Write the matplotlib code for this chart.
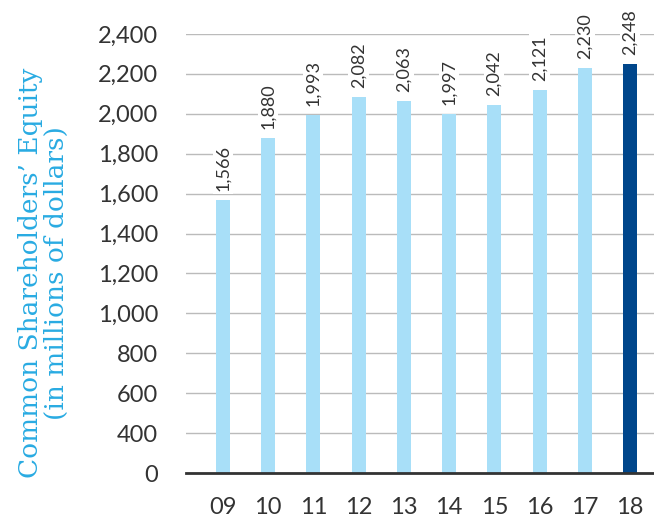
import matplotlib
matplotlib.use('Agg')
import numpy as np
from matplotlib import pyplot as plt

# Common shareholders' equity by year, millions of dollars
years = ['09', '10', '11', '12', '13', '14', '15', '16', '17', '18']
equity = [1566, 1880, 1993, 2082, 2063, 1997, 2042, 2121, 2230, 2248]
# the axis is cut: baseline sits at 200 but is labelled 0, no 200 tick
baseline = 200
yticks = [200, 400, 600, 800, 1000, 1200, 1400, 1600, 1800, 2000, 2200, 2400]
ytick_labels = ['0', '400', '600', '800', '1,000', '1,200', '1,400', '1,600',
                '1,800', '2,000', '2,200', '2,400']

light_blue = '#a8dff8'
dark_blue = '#00468b'
text_grey = '#333333'

plt.rcParams['font.family'] = ['Lato', 'DejaVu Sans']

fig = plt.figure(figsize=(6.54, 5.21), dpi=100)
ax = fig.add_axes([0.284, 0.092, 0.716, 0.843])

x = np.arange(len(years))
colors = [light_blue] * (len(years) - 1) + [dark_blue]
heights = [v - baseline for v in equity]
ax.bar(x, heights, bottom=baseline, width=0.31, color=colors, zorder=2)

# Value labels, rotated, with a white box that breaks the gridlines
for xi, v in zip(x, equity):
    ax.text(xi, v + 45, f'{v:,}', rotation=90, ha='center', va='bottom',
            fontsize=13, color=text_grey, clip_on=False,
            zorder=3, bbox=dict(facecolor='white', edgecolor='none', pad=1.5))

ax.set_xlim(-0.82, 9.53)
ax.set_ylim(baseline, 2400)
ax.set_yticks(yticks)
ax.set_yticklabels(ytick_labels)
ax.set_xticks(x)
ax.set_xticklabels(years)
ax.tick_params(axis='y', length=0, pad=20, labelsize=17, labelcolor=text_grey)
ax.tick_params(axis='x', length=0, pad=17, labelsize=17, labelcolor=text_grey)

ax.grid(axis='y', color='#bbbbbb', linewidth=1, zorder=0)
ax.set_axisbelow(True)
for side in ['left', 'right', 'top']:
    ax.spines[side].set_visible(False)
ax.spines['bottom'].set_color(text_grey)
ax.spines['bottom'].set_linewidth(2)
ax.spines['bottom'].set_zorder(4)

fig.text(0.066, 0.476, 'Common Shareholders\u2019 Equity\n(in millions of dollars)',
         rotation=90, ha='center', va='center', multialignment='center',
         fontsize=19, color='#29abe2', family=['DejaVu Serif'], linespacing=1.05)

fig.savefig('out.png', dpi=100)
